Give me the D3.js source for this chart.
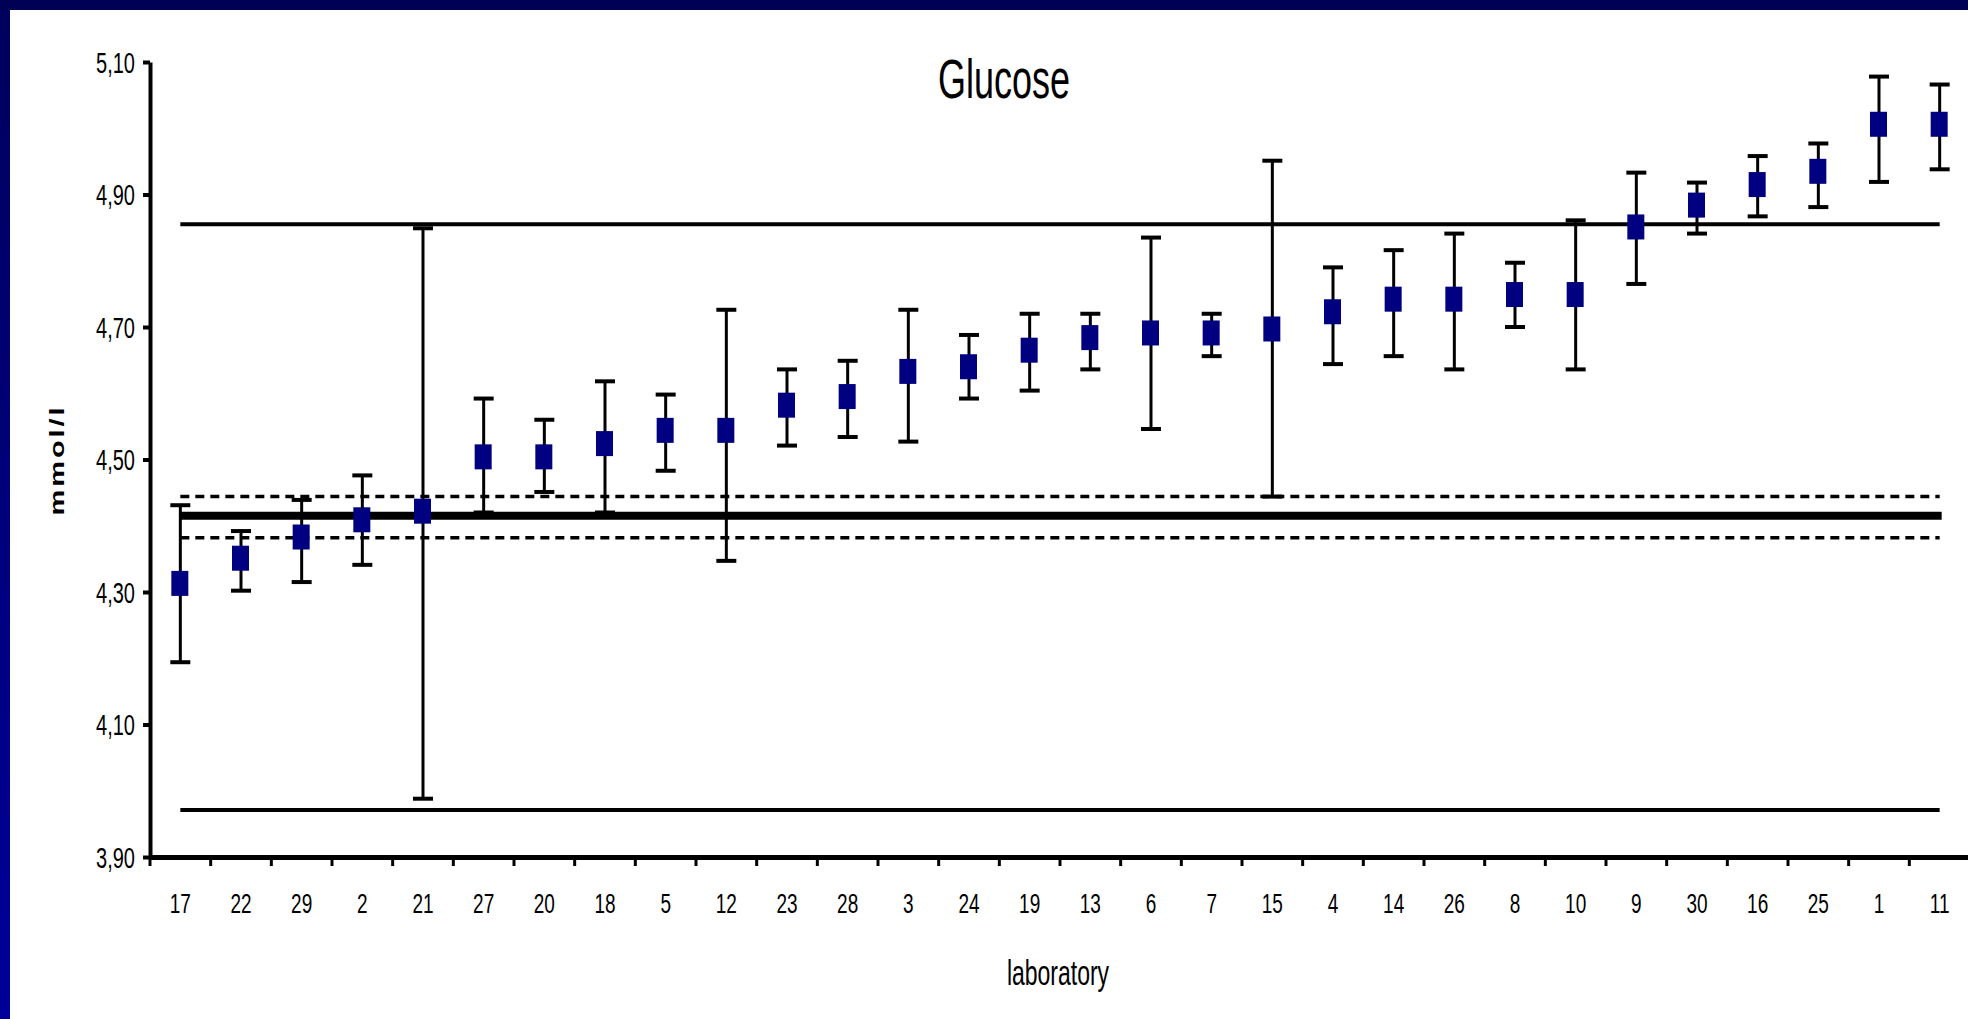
<!DOCTYPE html>
<html>
<head>
<meta charset="utf-8">
<script src="https://cdn.jsdelivr.net/npm/d3@7"></script>
<style>
  html, body { margin: 0; padding: 0; background: #fff; overflow: hidden; }
  svg { display: block; }
  text { font-family: "Liberation Sans", Arial, sans-serif; fill: #000; }
</style>
</head>
<body>
<svg id="chart" width="1968" height="1019"></svg>
<script>
// ---- data ----
const labs = ["17","22","29","2","21","27","20","18","5","12","23","28","3","24","19","13","6","7","15","4","14","26","8","10","9","30","16","25","1","11"];
const means = [4.313,4.351,4.383,4.409,4.422,4.504,4.504,4.524,4.544,4.544,4.582,4.595,4.633,4.640,4.665,4.684,4.691,4.691,4.697,4.723,4.742,4.742,4.749,4.749,4.851,4.884,4.915,4.935,5.006,5.006];
const upper = [4.431,4.392,4.439,4.476,4.849,4.592,4.560,4.618,4.598,4.726,4.636,4.649,4.726,4.688,4.720,4.720,4.835,4.720,4.951,4.790,4.816,4.841,4.797,4.861,4.933,4.918,4.958,4.977,5.078,5.066];
const lower = [4.194,4.302,4.315,4.341,3.988,4.420,4.451,4.420,4.483,4.347,4.521,4.534,4.527,4.592,4.604,4.636,4.546,4.656,4.444,4.644,4.656,4.636,4.700,4.636,4.765,4.841,4.867,4.881,4.919,4.938];
const yTicks = [3.90, 4.10, 4.30, 4.50, 4.70, 4.90, 5.10];
const refMean = 4.415;
const refCI = [4.382, 4.444];
const refLimits = [3.971, 4.855];
const title = "Glucose";
const xTitle = "laboratory";
const yTitle = "mmol/l";

// ---- layout ----
const svg = d3.select("#chart");
const W = 1968, H = 1019;

// frame
const defs = svg.append("defs");
const g1 = defs.append("linearGradient").attr("id","leftBand").attr("x1",0).attr("y1",0).attr("x2",0).attr("y2",1);
g1.append("stop").attr("offset","0%").attr("stop-color","#00005c");
g1.append("stop").attr("offset","100%").attr("stop-color","#00009a");
svg.append("rect").attr("x",0).attr("y",0).attr("width",W).attr("height",H).attr("fill","#fff");
svg.append("rect").attr("x",0).attr("y",0).attr("width",10).attr("height",H).attr("fill","url(#leftBand)");
svg.append("rect").attr("x",0).attr("y",0).attr("width",W).attr("height",10).attr("fill","#000055");

const x = d3.scaleBand().domain(labs).range([150, 1970]).padding(0);
const y = d3.scaleLinear().domain([3.9, 5.1]).range([857, 62]);
const bw = x.bandwidth();
const cx = d => x(d) + bw / 2;
const xFirst = cx(labs[0]), xLast = cx(labs[labs.length - 1]);

// reference lines
const refG = svg.append("g");
refLimits.forEach(v => {
  refG.append("line").attr("x1", xFirst).attr("x2", xLast)
    .attr("y1", y(v)).attr("y2", y(v))
    .attr("stroke", "#000").attr("stroke-width", 4);
});
refCI.forEach(v => {
  refG.append("line").attr("x1", xFirst).attr("x2", xLast)
    .attr("y1", y(v)).attr("y2", y(v))
    .attr("stroke", "#000").attr("stroke-width", 3.5)
    .attr("stroke-dasharray", "9,6");
});
refG.append("line").attr("x1", xFirst).attr("x2", xLast + 2)
  .attr("y1", y(refMean)).attr("y2", y(refMean))
  .attr("stroke", "#000").attr("stroke-width", 8);

// error bars
const rows = labs.map((l, i) => ({ lab: l, m: means[i], hi: upper[i], lo: lower[i] }));
const eb = svg.append("g").selectAll("g").data(rows).join("g");
eb.append("line")
  .attr("x1", d => cx(d.lab)).attr("x2", d => cx(d.lab))
  .attr("y1", d => y(d.hi)).attr("y2", d => y(d.lo))
  .attr("stroke", "#000").attr("stroke-width", 3);
eb.append("line")
  .attr("x1", d => cx(d.lab) - 10).attr("x2", d => cx(d.lab) + 10)
  .attr("y1", d => y(d.hi)).attr("y2", d => y(d.hi))
  .attr("stroke", "#000").attr("stroke-width", 4);
eb.append("line")
  .attr("x1", d => cx(d.lab) - 10).attr("x2", d => cx(d.lab) + 10)
  .attr("y1", d => y(d.lo)).attr("y2", d => y(d.lo))
  .attr("stroke", "#000").attr("stroke-width", 4);
eb.append("rect")
  .attr("x", d => cx(d.lab) - 9).attr("y", d => y(d.m) - 12.5)
  .attr("width", 17).attr("height", 25)
  .attr("fill", "#000080");

// y axis
const yAxis = svg.append("g").attr("transform", "translate(150,0)")
  .call(d3.axisLeft(y).tickValues(yTicks).tickSize(7).tickSizeOuter(0)
    .tickFormat(d => d3.format(".2f")(d).replace(".", ",")));
yAxis.select(".domain").attr("stroke", "#000").attr("stroke-width", 4);
yAxis.selectAll(".tick line").attr("stroke", "#000").attr("stroke-width", 4);
yAxis.selectAll(".tick text")
  .attr("x", null).attr("dy", null).attr("y", 0)
  .attr("transform", "translate(-15,10) scale(1,1.5)")
  .attr("text-anchor", "end")
  .style("font-size", "20px")
  .style("font-family", "'Liberation Sans', Arial, sans-serif")
  .attr("fill", "#000");

// x axis
const xAxis = svg.append("g").attr("transform", "translate(0,857)")
  .call(d3.axisBottom(x).tickSize(9).tickSizeOuter(0));
xAxis.select(".domain").attr("stroke", "#000").attr("stroke-width", 5);
xAxis.selectAll(".tick line").attr("stroke", "#000").attr("stroke-width", 3)
  .attr("x1", -bw / 2).attr("x2", -bw / 2);
xAxis.selectAll(".tick text")
  .attr("y", 0).attr("dy", null)
  .attr("transform", "translate(0,56) scale(1,1.5)")
  .attr("text-anchor", "middle")
  .style("font-size", "19px")
  .style("font-family", "'Liberation Sans', Arial, sans-serif")
  .attr("fill", "#000");

// titles
svg.append("text").text(title)
  .attr("transform", "translate(1004,98) scale(1,1.55)")
  .attr("text-anchor", "middle")
  .style("font-size", "36px");
svg.append("text").text(xTitle)
  .attr("transform", "translate(1058,985) scale(1,1.55)")
  .attr("text-anchor", "middle")
  .style("font-size", "23px");
svg.append("text").text(yTitle)
  .attr("transform", "translate(64,460) rotate(-90) scale(1.45,1)")
  .attr("text-anchor", "middle")
  .style("font-size", "20px")
  .style("font-weight", "bold")
  .style("letter-spacing", "2px");
</script>
</body>
</html>
